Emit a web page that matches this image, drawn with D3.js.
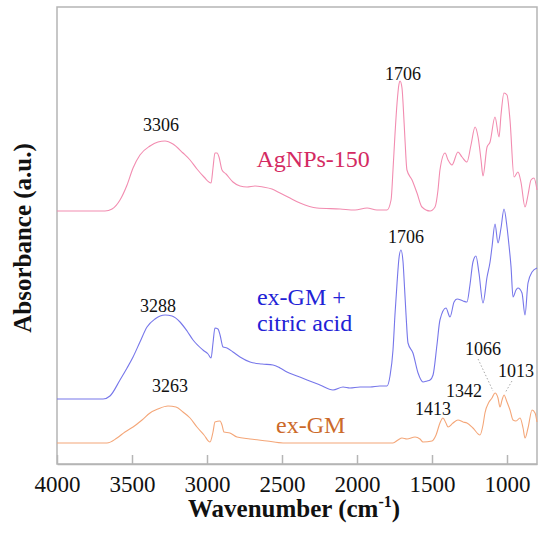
<!DOCTYPE html>
<html><head><meta charset="utf-8">
<script src="https://cdn.jsdelivr.net/npm/d3@7"></script>
<style>body{margin:0;background:#fff}svg{display:block}</style>
</head><body><svg id="c" width="539" height="536"></svg>
<script>
// ---- data ----
const xTicks = [4000, 3500, 3000, 2500, 2000, 1500, 1000];
const wnAg = [4000,3680,3633,3580,3533,3493,3447,3380,3327,3280,3227,3160,3113,3067,3020,2973,2960,2947,2933,2920,2900,2873,2827,2780,2733,2680,2627,2567,2513,2447,2380,2267,2113,2013,1933,1867,1800,1773,1760,1747,1733,1720,1713,1700,1693,1680,1667,1633,1600,1567,1513,1480,1460,1447,1413,1393,1367,1327,1300,1267,1240,1213,1193,1173,1160,1133,1113,1080,1053,1040,1020,1000,980,953,927,907,880,860,840,820,800];
const absAg = [2.53,2.53,2.55,2.64,2.79,2.96,3.09,3.18,3.22,3.23,3.20,3.11,3.04,2.95,2.87,2.81,2.96,3.11,3.11,3.07,2.94,2.90,2.82,2.78,2.77,2.78,2.77,2.75,2.71,2.66,2.61,2.56,2.55,2.54,2.56,2.54,2.54,2.64,2.94,3.29,3.61,3.80,3.83,3.76,3.61,3.24,2.94,2.84,2.71,2.57,2.53,2.57,2.74,2.94,3.11,3.04,2.99,3.12,3.07,3.02,3.19,3.37,3.27,3.04,2.88,3.17,3.22,3.47,3.27,3.49,3.71,3.69,3.44,2.87,2.92,2.82,2.57,2.69,2.84,2.86,2.74];
const wnCA = [4000,3693,3647,3580,3533,3493,3447,3400,3347,3280,3233,3180,3133,3093,3027,2993,2973,2960,2947,2927,2913,2893,2867,2827,2780,2713,2633,2560,2513,2467,2400,2333,2247,2160,2093,2047,1980,1913,1847,1800,1780,1760,1747,1733,1720,1707,1693,1687,1673,1660,1627,1593,1560,1533,1513,1493,1467,1447,1407,1380,1353,1333,1293,1267,1247,1227,1207,1187,1160,1133,1113,1100,1080,1060,1040,1020,1000,987,973,960,940,927,900,880,860,833,800];
const absCA = [0.65,0.65,0.68,0.84,0.96,1.07,1.22,1.37,1.45,1.49,1.48,1.42,1.33,1.24,1.14,1.10,1.06,1.21,1.36,1.35,1.29,1.17,1.16,1.12,1.07,1.02,1.00,0.99,0.96,0.92,0.88,0.84,0.79,0.74,0.77,0.76,0.77,0.77,0.78,0.78,0.88,1.14,1.49,1.81,2.06,2.14,2.02,1.87,1.49,1.21,1.11,0.91,0.82,0.83,0.84,0.89,1.19,1.44,1.56,1.47,1.62,1.65,1.63,1.62,1.79,2.02,2.08,1.91,1.61,1.87,2.02,2.17,2.40,2.21,2.36,2.55,2.37,2.19,1.97,1.67,1.74,1.76,1.71,1.49,1.81,1.92,1.96];
const wnGM = [4000,3667,3600,3547,3493,3433,3380,3327,3260,3207,3160,3113,3067,3020,2980,2960,2947,2913,2900,2887,2847,2800,2713,2600,2493,2380,2113,1760,1727,1700,1667,1613,1580,1560,1500,1473,1447,1427,1407,1393,1360,1327,1293,1267,1227,1180,1160,1147,1120,1100,1080,1060,1047,1033,1020,1000,980,960,940,913,893,880,860,833,813,800];
const absGM = [0.21,0.21,0.26,0.32,0.37,0.44,0.51,0.55,0.58,0.57,0.52,0.46,0.37,0.29,0.22,0.32,0.42,0.43,0.39,0.32,0.31,0.27,0.25,0.23,0.21,0.21,0.21,0.21,0.24,0.26,0.25,0.27,0.25,0.22,0.23,0.29,0.41,0.46,0.41,0.37,0.41,0.44,0.42,0.41,0.36,0.29,0.39,0.51,0.62,0.66,0.71,0.66,0.57,0.64,0.69,0.62,0.54,0.44,0.43,0.46,0.36,0.26,0.36,0.54,0.51,0.42];
const seriesNames = ["AgNPs-150", "ex-GM + citric acid", "ex-GM"];
const peakLabels = [
  {t:"1706", wn:1693, a:3.84}, {t:"3306", wn:3307, a:3.33},
  {t:"1706", wn:1673, a:2.21}, {t:"3288", wn:3327, a:1.52},
  {t:"3263", wn:3247, a:0.72}, {t:"1413", wn:1493, a:0.49},
  {t:"1342", wn:1287, a:0.67}, {t:"1066", wn:1160, a:1.09},
  {t:"1013", wn:940, a:0.87}
];

// ---- layout ----
const svg = d3.select("#c");
const L = 57, R = 537, T = 7, B = 464;
const x = d3.scaleLinear().domain([4000, 800]).range([L, R]);
const y = d3.scaleLinear().domain([0, 4.57]).range([B, T]);
const serif = "'Liberation Serif','Times New Roman',serif";

svg.append("rect").attr("x", L).attr("y", T).attr("width", R - L).attr("height", B - T)
  .attr("fill", "none").attr("stroke", "#b5b5b5").attr("stroke-width", 1.5);

const ax = svg.append("g").attr("transform", `translate(0,${B})`)
  .call(d3.axisBottom(x).tickValues(xTicks).tickSizeInner(-9).tickSizeOuter(0).tickFormat(d3.format("d")));
ax.select(".domain").attr("stroke", "#b5b5b5").attr("stroke-width", 1.5);
ax.selectAll(".tick line").attr("stroke", "#b5b5b5").attr("stroke-width", 1.5);
ax.selectAll(".tick text").attr("y", 28).attr("dy", 0)
  .style("font-family", serif).style("font-size", "23px").attr("fill", "#111");

const line = d3.line().x(d => x(d[0])).y(d => y(d[1])).curve(d3.curveMonotoneX);
const draw = (wn, ab, col) => svg.append("path").datum(wn.map((w, i) => [w, ab[i]]))
  .attr("d", line).attr("fill", "none").attr("stroke", col).attr("stroke-width", 1.1);
draw(wnAg, absAg, "#f28cb0");
draw(wnCA, absCA, "#7676ea");
draw(wnGM, absGM, "#f4a678");

// peak labels
svg.selectAll("text.pk").data(peakLabels).join("text").attr("class", "pk")
  .attr("x", d => x(d.wn)).attr("y", d => y(d.a)).attr("text-anchor", "middle")
  .style("font-family", serif).style("font-size", "18px").attr("fill", "#111").text(d => d.t);

// dotted leaders
const leaders = [[[1193, 1.05], [1093, 0.73]], [[967, 0.83], [1013, 0.71]]];
leaders.forEach(p => svg.append("line").attr("x1", x(p[0][0])).attr("y1", y(p[0][1]))
  .attr("x2", x(p[1][0])).attr("y2", y(p[1][1])).attr("stroke", "#aaa").attr("stroke-dasharray", "1.5,2").attr("stroke-width", 1));

// series labels
const lab = (wn, a, col, t) => svg.append("text").attr("x", x(wn)).attr("y", y(a))
  .style("font-family", serif).style("font-size", "24px").attr("fill", col).text(t);
lab(2670, 2.97, "#d42a62", seriesNames[0]);
lab(2667, 1.59, "#2222d6", "ex-GM +");
lab(2667, 1.33, "#2222d6", "citric acid");
lab(2540, 0.31, "#cc6a2a", seriesNames[2]);

// axis titles
const xt = svg.append("text").attr("x", (L + R) / 2 - 3).attr("y", 517).attr("text-anchor", "middle")
  .style("font-family", serif).style("font-size", "25px").attr("font-weight", "bold").attr("fill", "#111");
xt.append("tspan").text("Wavenumber (cm");
xt.append("tspan").style("font-size", "16px").attr("dy", -10).text("-1");
xt.append("tspan").attr("dy", 10).text(")");
svg.append("text").attr("transform", "translate(31,238) rotate(-90)").attr("text-anchor", "middle")
  .style("font-family", serif).style("font-size", "25px").attr("font-weight", "bold").attr("fill", "#111")
  .text("Absorbance (a.u.)");
</script></body></html>
